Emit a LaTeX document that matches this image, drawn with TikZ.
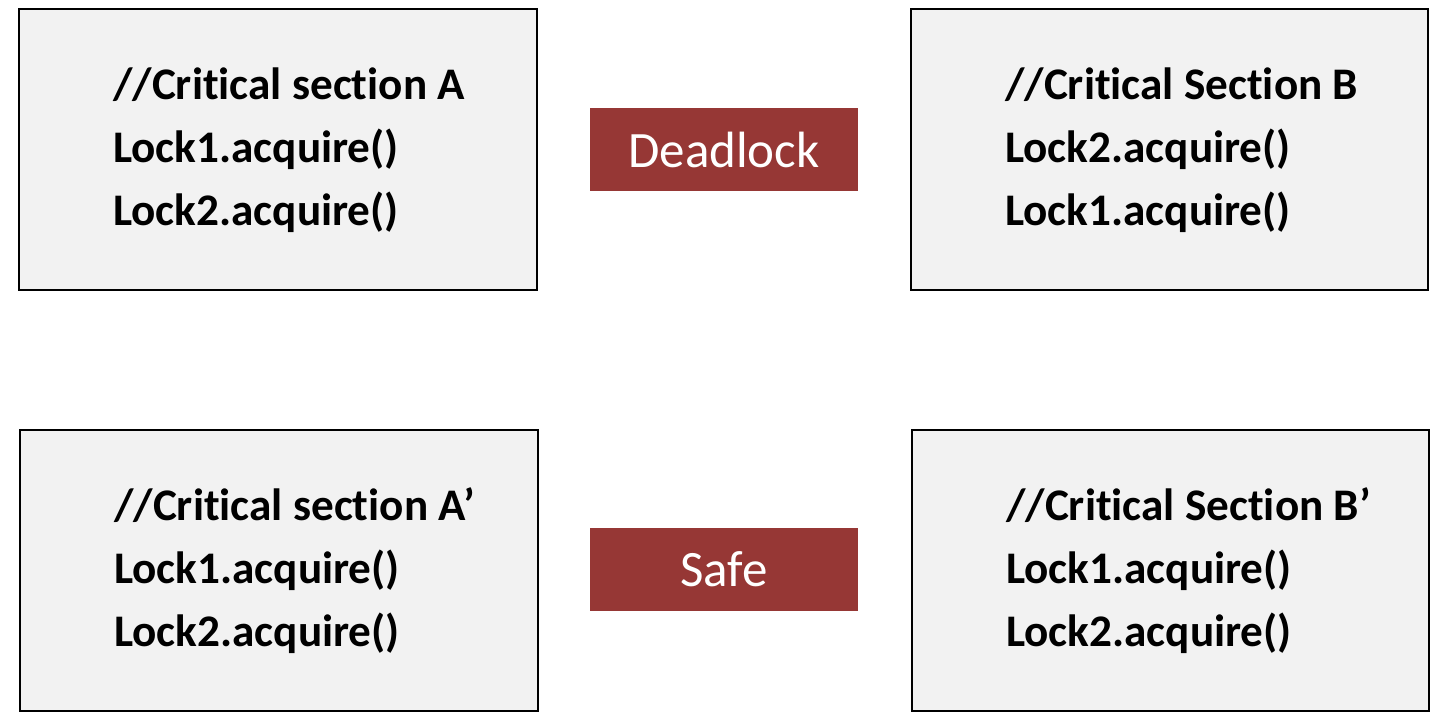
\documentclass[tikz,border=0pt]{standalone}
\usepackage{fontspec}
\setmainfont{Carlito}[RawFeature=-liga]
\definecolor{boxfill}{HTML}{F2F2F2}
\definecolor{tagred}{HTML}{963735}
\begin{document}
\begin{tikzpicture}[x=1pt,y=-1pt,
  codebox/.style={draw=black,line width=2.8pt,fill=boxfill,inner sep=0pt},
  tag/.style={fill=tagred,inner sep=0pt,text=white,font=\fontsize{51}{60}\selectfont},
  codeline/.style={anchor=base west,inner sep=0pt,font=\fontsize{45.2}{54}\selectfont\bfseries}]
\useasboundingbox (0,0) rectangle (1439,720);
% boxes
\node[codebox,minimum width=518pt,minimum height=281pt] (A) at (278,149.5) {};
\node[codebox,minimum width=517pt,minimum height=281pt] (B) at (1169.5,149.5) {};
\node[codebox,minimum width=518pt,minimum height=281pt] (A2) at (279,570.5) {};
\node[codebox,minimum width=517pt,minimum height=281pt] (B2) at (1170.5,570.5) {};
% tags
\node[tag,minimum width=268pt,minimum height=83pt] (dl) at (724,149.5) {\raisebox{-2pt}{Deadlock}};
\node[tag,minimum width=268pt,minimum height=83pt] (sf) at (724,569.5) {\raisebox{-2pt}{Safe}};
% text A
\node[codeline] (a1) at (113,99) {//Critical section A};
\node[codeline] (a2) at (113,162) {Lock1.acquire()};
\node[codeline] (a3) at (113,225) {Lock2.acquire()};
% text B
\node[codeline] (b1) at (1005,99) {//Critical Section B};
\node[codeline] (b2) at (1005,162) {Lock2.acquire()};
\node[codeline] (b3) at (1005,225) {Lock1.acquire()};
% text A'
\node[codeline] (c1) at (114,520) {//Critical section A’};
\node[codeline] (c2) at (114,583) {Lock1.acquire()};
\node[codeline] (c3) at (114,646) {Lock2.acquire()};
% text B'
\node[codeline] (d1) at (1006,520) {//Critical Section B’};
\node[codeline] (d2) at (1006,583) {Lock1.acquire()};
\node[codeline] (d3) at (1006,646) {Lock2.acquire()};
\end{tikzpicture}
\end{document}
